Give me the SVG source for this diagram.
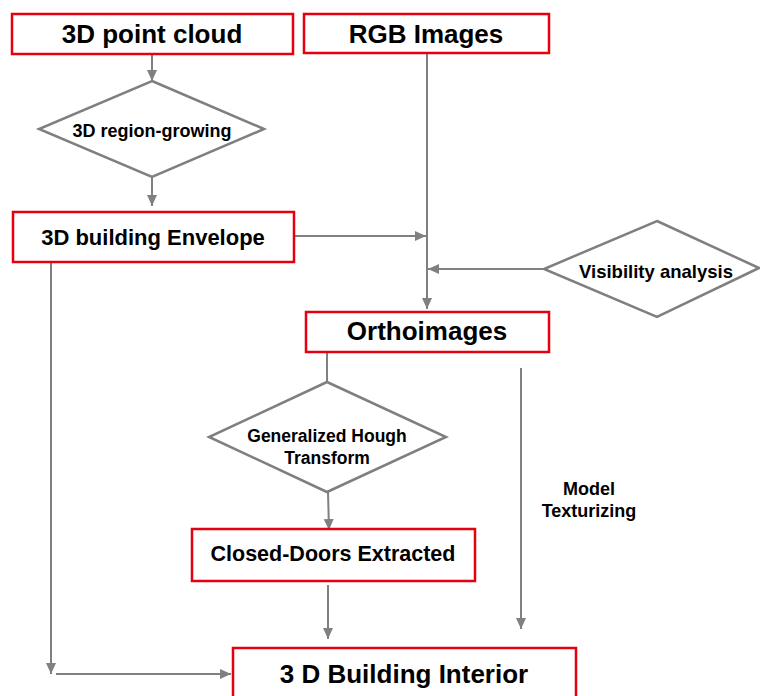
<svg xmlns="http://www.w3.org/2000/svg" width="760" height="696" viewBox="0 0 760 696">
<defs>
<style>
.box{fill:#fff;stroke:#e3000f;stroke-width:2.5}
.dia{fill:#fff;stroke:#7f7f7f;stroke-width:2.5}
.t{font-family:"Liberation Sans",Arial,sans-serif;font-weight:bold;fill:#000;text-anchor:middle}
.c{fill:none;stroke:#808080;stroke-width:2}
</style>
<marker id="ah" markerUnits="userSpaceOnUse" markerWidth="12" markerHeight="12" viewBox="0 0 12 12" refX="11" refY="6" orient="auto">
<path d="M0,1 L11,6 L0,11 Z" fill="#808080"/>
</marker>
</defs>
<rect width="760" height="696" fill="#fff"/>
<g id="connectors">
<line class="c" x1="152" y1="54" x2="152" y2="81" marker-end="url(#ah)"/>
<line class="c" x1="152" y1="177" x2="152" y2="206" marker-end="url(#ah)"/>
<line class="c" x1="294" y1="236" x2="426" y2="236" marker-end="url(#ah)"/>
<line class="c" x1="427" y1="53" x2="427" y2="309" marker-end="url(#ah)"/>
<line class="c" x1="544" y1="269" x2="428" y2="269" marker-end="url(#ah)"/>
<line class="c" x1="327" y1="352" x2="327" y2="382"/>
<line class="c" x1="328" y1="492" x2="329" y2="530" marker-end="url(#ah)"/>
<line class="c" x1="328" y1="585" x2="328" y2="639" marker-end="url(#ah)"/>
<line class="c" x1="521" y1="368" x2="521" y2="629" marker-end="url(#ah)"/>
<line class="c" x1="51" y1="262" x2="51" y2="674" marker-end="url(#ah)"/>
<line class="c" x1="56" y1="674" x2="231" y2="674" marker-end="url(#ah)"/>
</g>
<g id="point-cloud">
<rect class="box" x="12" y="14" width="281" height="40"/>
<text class="t" x="152" y="43" font-size="26">3D point cloud</text>
</g>
<g id="rgb-images">
<rect class="box" x="304" y="14" width="245" height="39"/>
<text class="t" x="426" y="43" font-size="26">RGB Images</text>
</g>
<g id="region-growing">
<polygon class="dia" points="152,81 264,129 152,177 39,129"/>
<text class="t" x="152" y="137" font-size="18">3D region-growing</text>
</g>
<g id="envelope">
<rect class="box" x="13" y="212" width="281" height="50"/>
<text class="t" x="153" y="245" font-size="22">3D building Envelope</text>
</g>
<g id="visibility">
<polygon class="dia" points="657,221 759,268 657,317 544,269"/>
<text class="t" x="656" y="278" font-size="18.5">Visibility analysis</text>
</g>
<g id="orthoimages">
<rect class="box" x="306" y="312" width="243" height="40"/>
<text class="t" x="427" y="340" font-size="26">Orthoimages</text>
</g>
<g id="hough">
<polygon class="dia" points="327,382 446,437 327,492 209,437"/>
<text class="t" x="327" y="442" font-size="17.5">Generalized Hough</text>
<text class="t" x="327" y="464" font-size="17.5">Transform</text>
</g>
<g id="closed-doors">
<rect class="box" x="192" y="529" width="283" height="52"/>
<text class="t" x="333" y="561" font-size="21.5">Closed-Doors Extracted</text>
</g>
<g id="model-texturizing">
<text class="t" x="589" y="495" font-size="18">Model</text>
<text class="t" x="589" y="517" font-size="18">Texturizing</text>
</g>
<g id="building-interior">
<rect class="box" x="233" y="648" width="343" height="60"/>
<text class="t" x="404" y="683" font-size="26">3 D Building Interior</text>
</g>
</svg>
